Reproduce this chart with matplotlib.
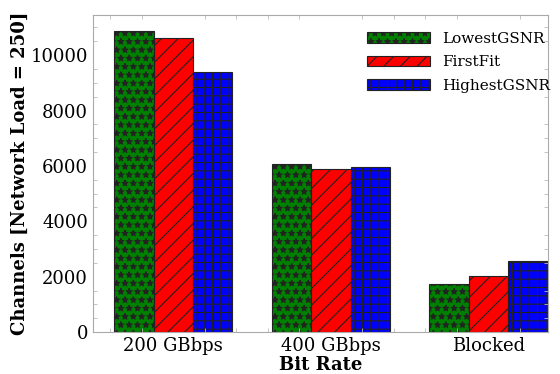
import matplotlib
matplotlib.use("Agg")
import matplotlib.pyplot as plt
import numpy as np
from matplotlib.ticker import MultipleLocator

plt.rcParams["font.family"] = "DejaVu Serif"
plt.rcParams["hatch.linewidth"] = 0.8
plt.rcParams["hatch.color"] = "black"

categories = ["200 GBbps", "400 GBbps", "Blocked"]
lowest_gsnr = [10870, 6070, 1720]
first_fit = [10610, 5900, 2040]
highest_gsnr = [9390, 5970, 2580]

series = [
    ("LowestGSNR", lowest_gsnr, "green", "**"),
    ("FirstFit", first_fit, "red", "//"),
    ("HighestGSNR", highest_gsnr, "blue", "++"),
]

fig, ax = plt.subplots(figsize=(5.6, 3.74), dpi=100)
x = np.arange(len(categories))
width = 0.25
for i, (name, vals, color, hatch) in enumerate(series):
    ax.bar(x + (i - 1) * width, vals, width, color=color, hatch=hatch,
           edgecolor="#222222", lw=0.8, label=name)

ax.set_xlim(-0.51, 2.38)
ax.set_ylim(0, 11450)
ax.set_xticks(x)
ax.set_xticklabels(categories, fontsize=13)
ax.tick_params(axis="y", labelsize=13)
ax.xaxis.set_minor_locator(MultipleLocator(0.2))
ax.yaxis.set_minor_locator(MultipleLocator(500))
ax.tick_params(which="both", direction="in", color="#bbbbbb",
               top=True, right=True)
ax.tick_params(which="major", length=0)
ax.tick_params(which="minor", length=3)
for s in ax.spines.values():
    s.set_color("#aaaaaa")

ax.set_xlabel("Bit Rate", fontsize=13, fontweight="bold", labelpad=1)
ax.set_ylabel("Channels [Network Load = 250]", fontsize=13, fontweight="bold",
              labelpad=1)
ax.legend(fontsize=11, frameon=False, loc="upper right", handlelength=4.1,
          labelspacing=0.62, bbox_to_anchor=(1.034, 0.99))

fig.subplots_adjust(left=0.166, right=0.979, top=0.96, bottom=0.112)
fig.savefig("out.png", dpi=100)
